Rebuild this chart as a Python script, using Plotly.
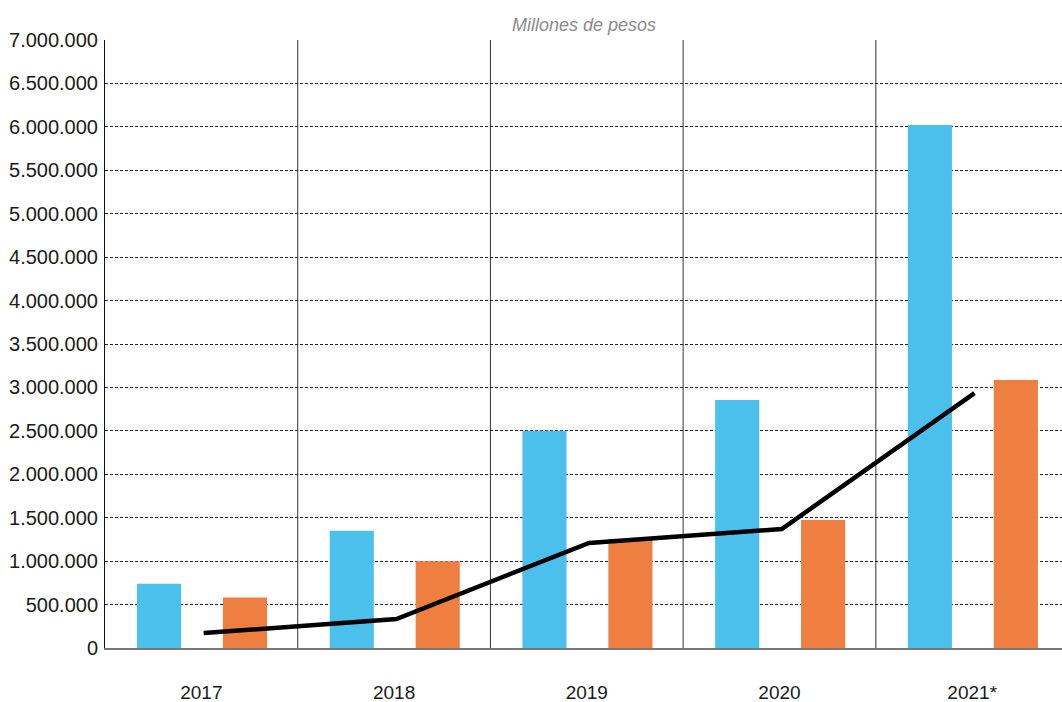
import plotly.graph_objects as go

categories = ["2017", "2018", "2019", "2020", "2021*"]
serie_azul = [740000, 1350000, 2500000, 2855000, 6020000]
serie_naranja = [580000, 1000000, 1255000, 1475000, 3085000]
serie_linea = [172000, 334000, 1210000, 1370000, 2935000]
y_ticks = list(range(0, 7000001, 500000))

xs = list(range(len(categories)))

fig = go.Figure()
fig.add_trace(go.Bar(x=xs, y=serie_azul, width=0.229, offset=-0.334,
                     marker=dict(color="#4BC0EC", line=dict(width=0)), name="A"))
fig.add_trace(go.Bar(x=xs, y=serie_naranja, width=0.229, offset=0.112,
                     marker=dict(color="#EF7F41", line=dict(width=0)), name="B"))
fig.add_trace(go.Scatter(x=[v + 0.012 for v in xs], y=serie_linea, mode="lines",
                         line=dict(color="#000000", width=4.5), name="C"))

shapes = []
for b in [0.5, 1.5, 2.5, 3.5]:
    shapes.append(dict(type="line", xref="x", yref="paper", x0=b, x1=b, y0=0, y1=1,
                       line=dict(color="#333333", width=1), layer="below"))

fig.update_layout(
    width=1062, height=702,
    margin=dict(l=105, r=0, t=40, b=54),
    paper_bgcolor="white", plot_bgcolor="white",
    barmode="overlay",
    showlegend=False,
    separators=",.",
    font=dict(family="Liberation Sans, Arial, sans-serif", color="#1a1a1a", size=20),
    shapes=shapes,
    annotations=[dict(text="<i>Millones de pesos</i>", xref="paper", yref="paper",
                      x=0.5, y=1, yanchor="bottom", yshift=3, showarrow=False,
                      font=dict(size=18, color="#8a8a8a"))],
    xaxis=dict(range=[-0.5, 4.466], tickvals=xs, ticktext=categories,
               showgrid=False, zeroline=False, showline=True, linecolor="#777777",
               linewidth=2, ticks="", ticklabelstandoff=26, fixedrange=True,
               tickfont=dict(size=19), automargin=False),
    yaxis=dict(range=[0, 7000000], tickvals=y_ticks, tickformat=",d",
               showgrid=True, gridcolor="#222222", gridwidth=1, griddash="3px,2px",
               zeroline=False, showline=True, linecolor="#111111", linewidth=1,
               ticks="", ticklabelstandoff=2, fixedrange=True, automargin=False),
)

fig.write_html("out.html", config={"displayModeBar": False},
               post_script="document.body.style.margin='0';document.body.style.overflow='hidden';")
